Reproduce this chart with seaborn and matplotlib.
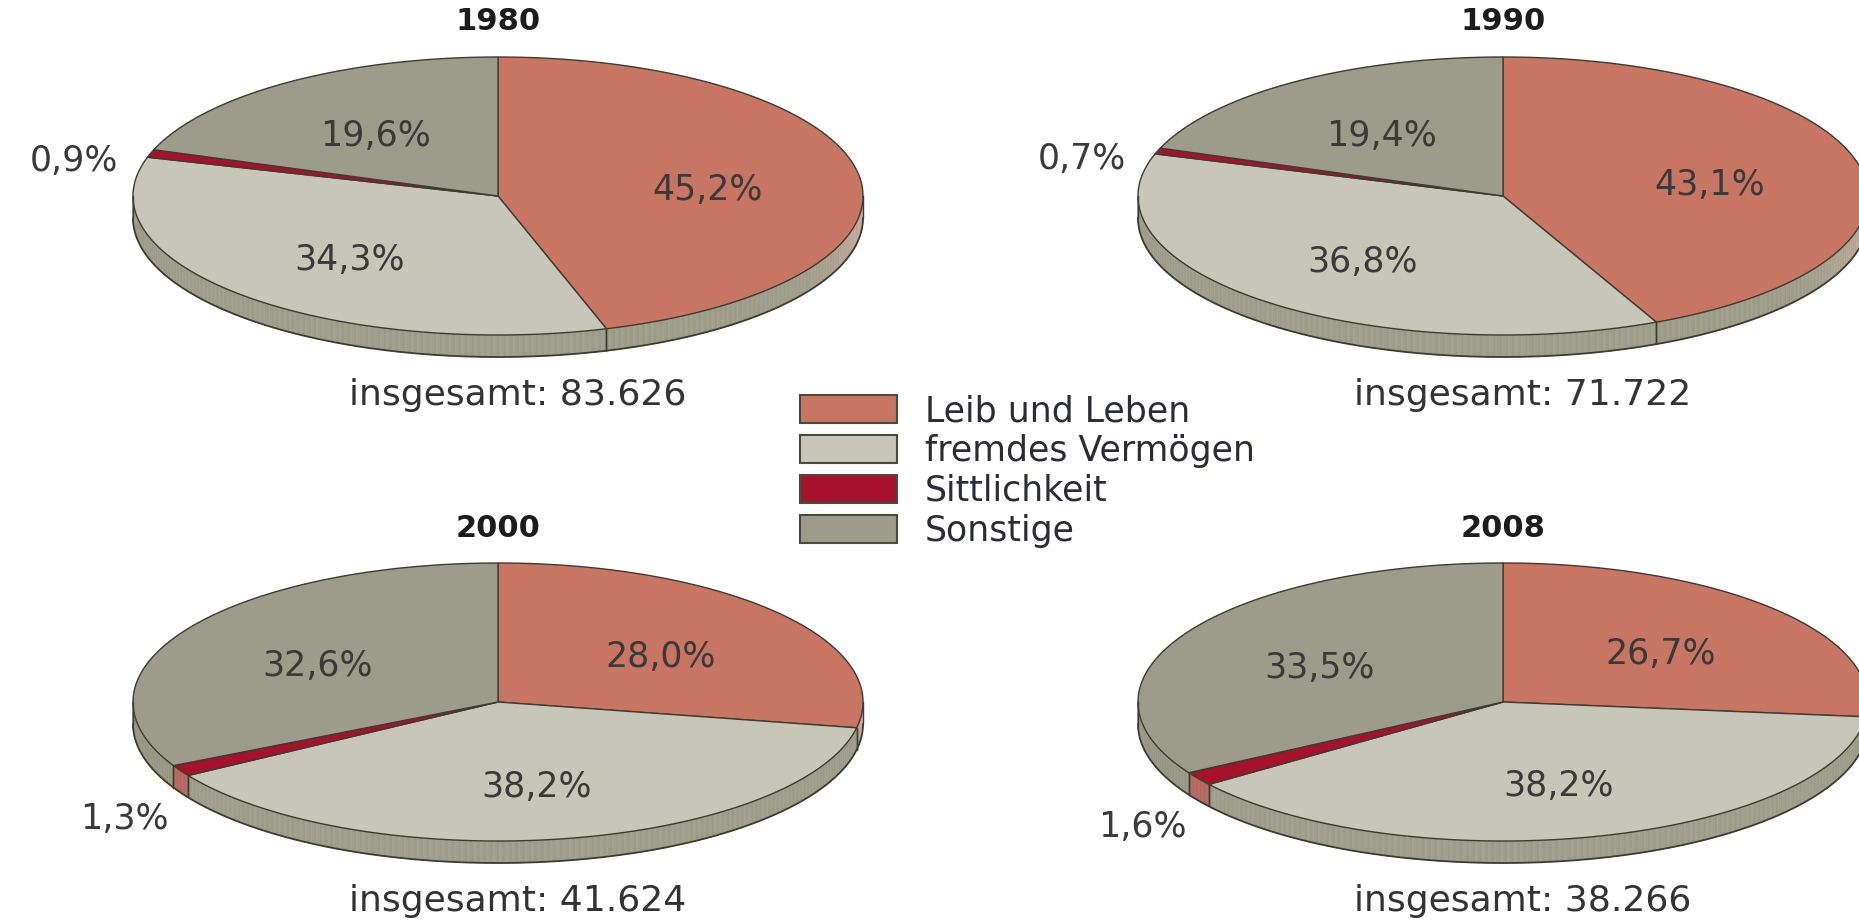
import numpy as np
import matplotlib
matplotlib.use("Agg")
import matplotlib.pyplot as plt
import seaborn as sns
from matplotlib.patches import Polygon, Patch
from matplotlib.collections import PolyCollection
from matplotlib.colors import to_rgb

# ---- data -------------------------------------------------------------
years = ["1980", "1990", "2000", "2008"]
categories = ["Leib und Leben", "fremdes Vermögen", "Sittlichkeit", "Sonstige"]
share_1980 = [45.2, 34.3, 0.9, 19.6]
share_1990 = [43.1, 36.8, 0.7, 19.4]
share_2000 = [28.0, 38.2, 1.3, 32.6]
share_2008 = [26.7, 38.2, 1.6, 33.5]
totals = [83626, 71722, 41624, 38266]

shares = [share_1980, share_1990, share_2000, share_2008]

# ---- style ------------------------------------------------------------
sns.set_theme(style="white")
plt.rcParams["font.family"] = ["DejaVu Sans"]

top_colors = sns.color_palette(["#c97563", "#c7c6b9", "#a8112a", "#9d9c8a"])
side_colors = sns.color_palette(["#9e9d89", "#9f9e8b", "#b56a60", "#9a9987"])
side_highlight = to_rgb("#d8b1a9")
edge_col = "#3c3c32"
label_col = "#3a3a3a"

W, H = 1859, 922
fig = plt.figure(figsize=(W / 100, H / 100), dpi=100)
ax = fig.add_axes([0, 0, 1, 1])
ax.set_xlim(0, W)
ax.set_ylim(H, 0)
ax.axis("off")

# ellipse geometry of each tilted pie (pixel units)
RX, RY, DEPTH = 365, 139, 22
centers = [(498, 196), (1503, 196), (498, 702), (1503, 702)]


def fmt_pct(v):
    return f"{v:.1f}".replace(".", ",") + "%"


def fmt_total(n):
    return "insgesamt: " + f"{n:,}".replace(",", ".")


def rim(cx, cy, th):
    r = np.deg2rad(th)
    return cx + RX * np.cos(r), cy - RY * np.sin(r)


def draw_pie(cx, cy, values):
    vals = np.asarray(values, dtype=float)
    bounds = 90 - 360 * np.concatenate([[0], np.cumsum(vals) / vals.sum()])

    # side walls of the front half (angles between -180 and 0)
    for i in range(len(vals)):
        t0, t1 = bounds[i], bounds[i + 1]
        lo, hi = max(t1, -180), min(t0, 0)
        if hi <= lo:
            continue
        th = np.linspace(hi, lo, max(4, int((hi - lo) * 3)))
        x, y = rim(cx, cy, th)
        polys, cols = [], []
        base = np.array(side_colors[i])
        for k in range(len(th) - 1):
            polys.append([(x[k], y[k]), (x[k + 1], y[k + 1]),
                          (x[k + 1], y[k + 1] + DEPTH), (x[k], y[k] + DEPTH)])
            tm = 0.5 * (th[k] + th[k + 1])
            w = 0.0
            if i == 0:
                w = np.clip((tm + 40) / 40, 0, 1) ** 1.4
            c = base * (1 - w) + np.array(side_highlight) * w
            # faint vertical grain of the wall
            c = np.clip(c * (1.0 + 0.025 * ((k % 3) - 1)), 0, 1)
            cols.append(c)
        ax.add_collection(PolyCollection(polys, facecolors=cols,
                                         edgecolors=cols, linewidths=0.6))
        # wall separators at slice borders
        for tb in (t0, t1):
            if -180 < tb < 0:
                bx, by = rim(cx, cy, tb)
                ax.plot([bx, bx], [by, by + DEPTH], color=edge_col, lw=1.0)

    # outline of the wall
    th = np.linspace(-180, 0, 200)
    x, y = rim(cx, cy, th)
    ax.plot(x, y + DEPTH, color=edge_col, lw=1.3)
    for tb in (-180, 0):
        bx, by = rim(cx, cy, tb)
        ax.plot([bx, bx], [by, by + DEPTH], color=edge_col, lw=1.0)

    # top surface slices
    for i in range(len(vals)):
        t0, t1 = bounds[i], bounds[i + 1]
        th = np.linspace(t0, t1, max(3, int((t0 - t1) * 2)))
        x, y = rim(cx, cy, th)
        pts = np.column_stack([np.r_[cx, x], np.r_[cy, y]])
        ax.add_patch(Polygon(pts, closed=True, facecolor=top_colors[i],
                             edgecolor=edge_col, lw=1.0, joinstyle="round"))

    # percentage labels
    for i in range(len(vals)):
        t0, t1 = bounds[i], bounds[i + 1]
        mid = 0.5 * (t0 + t1)
        r = np.deg2rad(mid)
        if vals[i] >= 3:
            lx = cx + 0.58 * RX * np.cos(r)
            ly = cy - 0.58 * RY * np.sin(r) + 6
            ax.text(lx, ly, fmt_pct(vals[i]), ha="center", va="center",
                    fontsize=25, color=label_col)
        else:
            bx, by = rim(cx, cy, mid)
            front = np.sin(r) < 0
            lx = bx - (12 if front else 32)
            ly = by + (48 if front else 8)
            ax.text(lx, ly, fmt_pct(vals[i]), ha="right", va="center",
                    fontsize=25, color=label_col)


for (cx, cy), year, vals, tot in zip(centers, years, shares, totals):
    draw_pie(cx, cy, vals)
    ax.text(cx, cy - 174, year, ha="center", va="center", fontsize=22,
            fontweight="bold", color="#1c1c1c")
    ax.text(cx + 20, cy + 209, fmt_total(tot), ha="center", va="baseline",
            fontsize=26, color="#333333")

handles = [Patch(facecolor=c, edgecolor="#4a4a40", lw=1.5) for c in top_colors]
leg = fig.legend(handles, categories, loc="upper left",
                 bbox_to_anchor=(800 / W, 1 - 394 / H), frameon=False,
                 fontsize=25, handlelength=2.8, handleheight=0.86,
                 handletextpad=0.8, labelspacing=0.17, borderpad=0,
                 borderaxespad=0)
for t in leg.get_texts():
    t.set_color("#2b2b3a")

fig.savefig("out.png", dpi=100, facecolor="white")
